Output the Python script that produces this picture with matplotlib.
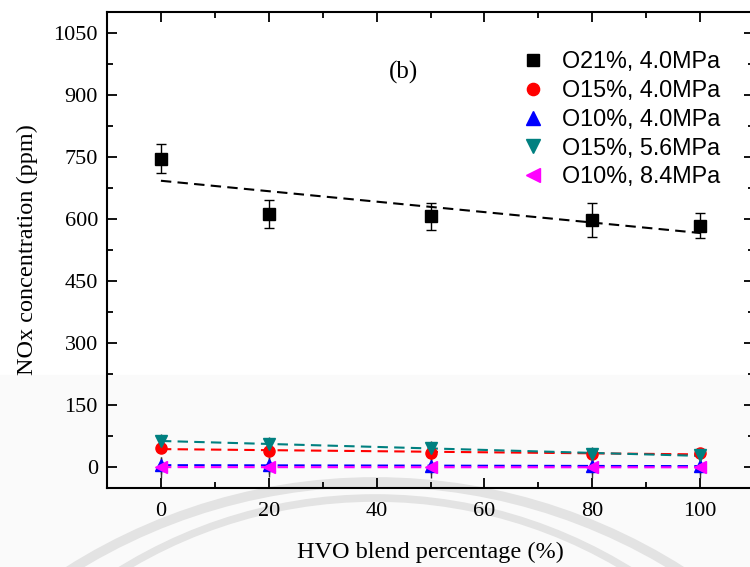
import numpy as np
import matplotlib
matplotlib.use("Agg")
import matplotlib.pyplot as plt
from matplotlib.patches import Arc, Rectangle
from matplotlib.ticker import MultipleLocator

# data
hvo = [0, 20, 50, 80, 100]
o21_40 = [746, 613, 606, 597, 584]
o21_40_err = [34, 34, 33, 41, 30]
o15_40 = [47, 40, 35, 31, 35]
o15_40_err = [10, 10, 10, 10, 10]
o10_40 = [5, 5, 4, 3, 3]
o10_40_err = [20, 20, 20, 20, 20]
o15_56 = [63, 57, 47, 32, 29]
o15_56_err = [17, 17, 17, 17, 17]
o10_84 = [0, 1, 0, 0, 0]
o10_84_err = [25, 25, 25, 25, 25]

labels = ["O21%, 4.0MPa", "O15%, 4.0MPa", "O10%, 4.0MPa", "O15%, 5.6MPa", "O10%, 8.4MPa"]
series = [o21_40, o15_40, o10_40, o15_56, o10_84]
errors = [o21_40_err, o15_40_err, o10_40_err, o15_56_err, o10_84_err]
colors = ["black", "#ff0000", "#0000ff", "#008080", "#ff00ff"]
markers = ["s", "o", "^", "v", "<"]

plt.rcParams["font.family"] = ["Liberation Serif", "DejaVu Serif"]

W, H = 750, 567
fig = plt.figure(figsize=(7.5, 5.67), dpi=100)

# faint watermark in the lower part of the scan
fig.patches.append(Rectangle((0, 0), 1, (H - 375) / H, transform=fig.transFigure,
                             color="#fafafa", zorder=-2))
for cx, cy, r, lw in [(375, 1054, 572, 7), (375, 982, 484, 5.5)]:
    arc = Arc((cx / W, 1 - cy / H), 2 * r / W, 2 * r / H,
              theta1=20, theta2=160, transform=fig.transFigure,
              color="#e3e3e3", lw=lw, zorder=-1)
    fig.patches.append(arc)

ax = fig.add_axes([107 / W, 79 / H, 647 / W, 476 / H])
ax.patch.set_alpha(0)

xs = np.array(hvo, dtype=float)
handles = []
for ys, err, c, m, lab in zip(series, errors, colors, markers, labels):
    ax.errorbar(hvo, ys, yerr=err, fmt="none", ecolor="black" if c == "black" else "#333333",
                elinewidth=1, capsize=3.5 if c == "black" else 0, zorder=3)
    # linear trend line
    k, b = np.polyfit(xs, ys, 1)
    ax.plot(xs, k * xs + b, linestyle=(0, (5, 3)), color=c, lw=1.5, zorder=2)
    h, = ax.plot(hvo, ys, linestyle="none", marker=m, color=c,
                 markersize=8 if m in "so" else 9, label=lab, zorder=4)
    handles.append(h)

ax.set_xlim(-10, 110)
ax.set_ylim(-50, 1100)
ax.xaxis.set_major_locator(MultipleLocator(20))
ax.xaxis.set_minor_locator(MultipleLocator(10))
ax.yaxis.set_major_locator(MultipleLocator(150))
ax.yaxis.set_minor_locator(MultipleLocator(75))
ax.set_xticks([0, 20, 40, 60, 80, 100])
ax.set_yticks(range(0, 1051, 150))
ax.tick_params(which="both", direction="in", top=True, right=True, width=1.3,
               labelsize=16)
ax.tick_params(which="major", length=7)
ax.tick_params(which="minor", length=4)
ax.tick_params(axis="x", pad=10)
ax.tick_params(axis="y", pad=6.5)
for s in ax.spines.values():
    s.set_linewidth(1.5)

ax.set_xlabel("HVO blend percentage (%)", fontsize=17.5)
ax.set_ylabel("NOx concentration (ppm)", fontsize=17.5)
ax.xaxis.set_label_coords(0.5, (488 - 542) / 476)
ax.yaxis.set_label_coords((38 - 107) / 647, 0.5)

ax.text(45, 955, "(b)", fontsize=18, ha="center", va="center")

ax.legend(handles=handles, loc="upper left", bbox_to_anchor=(0.64, 0.92),
          frameon=False, borderaxespad=0, borderpad=0, handlelength=1.0,
          handletextpad=0.75, labelspacing=0.25, markerscale=1.1,
          prop={"family": "Liberation Sans", "size": 16.8})

fig.savefig("out.png", dpi=100)
